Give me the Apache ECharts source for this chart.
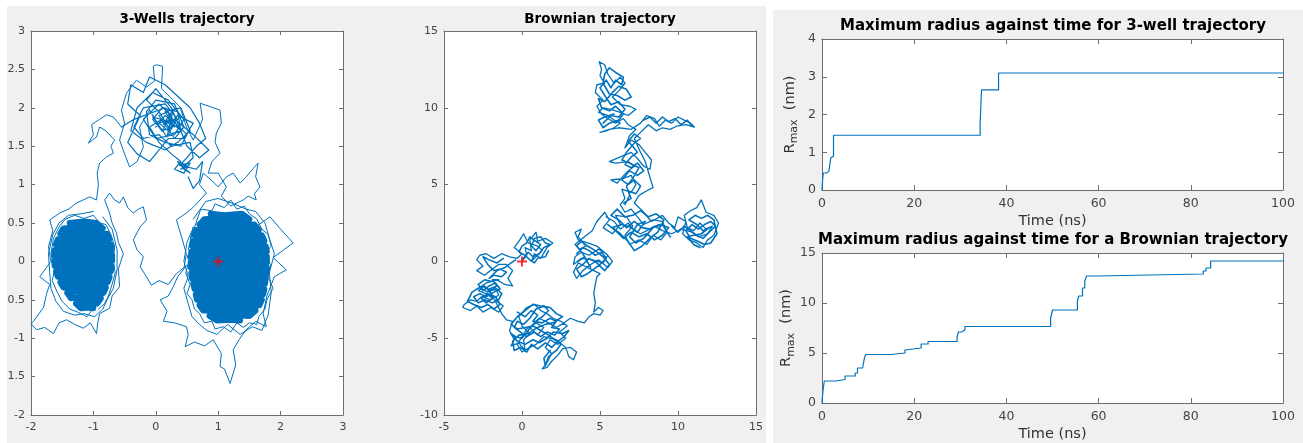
<!DOCTYPE html>
<html><head><meta charset="utf-8">
<script src="https://cdn.jsdelivr.net/npm/echarts@6/dist/echarts.min.js"></script>
<style>html,body{margin:0;padding:0;background:#fff}#c{width:1303px;height:443px}</style>
</head><body><div id="c"></div>
<script>
// ---------- 3-Wells trajectory (hand-traced legs) ----------
const wellsLegRight = [[1.0,0.0],[1.25,0.3],[1.6,0.45],[1.83,0.58],[2.0,0.42],[2.2,0.24],[2.05,0.15],[1.88,0.05],[2.09,-0.11],[1.9,-0.2],[1.78,-0.45],[1.72,-0.68],[1.77,-0.85],[1.6,-0.78],[1.45,-0.89],[1.35,-1.0],[1.24,-1.15],[1.28,-1.35],[1.19,-1.59],[1.1,-1.4],[1.03,-1.37],[1.05,-1.2],[0.92,-1.02],[0.78,-1.1],[0.62,-1.05],[0.47,-1.11],[0.52,-0.95],[0.49,-0.85],[0.3,-0.8],[0.12,-0.78],[0.18,-0.65],[0.07,-0.5],[0.2,-0.45],[0.28,-0.33],[0.35,-0.2],[0.45,-0.1],[0.49,0.1],[0.42,0.3],[0.33,0.54],[0.49,0.63],[0.62,0.72],[0.81,0.89],[0.7,1.0],[0.76,1.15],[0.9,1.05],[1.0,0.97],[1.13,1.1],[1.24,1.15],[1.35,1.02],[1.45,1.1],[1.55,1.2],[1.64,1.28],[1.6,1.1],[1.67,0.97],[1.58,0.88],[1.61,0.8],[1.48,0.85],[1.4,0.8],[1.2,0.72],[1.05,0.85],[1.13,0.97],[1.0,1.15],[0.84,1.15],[0.9,1.3],[1.03,1.41],[0.95,1.55],[0.97,1.67],[1.05,1.8],[1.03,1.97],[0.89,2.01],[0.71,2.06],[0.75,1.85],[0.6,1.58],[0.49,1.75],[0.39,2.01],[0.23,2.14],[0.09,2.25],[0.11,2.54],[0.01,2.56],[-0.04,2.54],[-0.02,2.35],[-0.15,2.27],[-0.31,2.36],[-0.47,2.19],[-0.55,1.97],[-0.5,1.8],[-0.58,1.58],[-0.5,1.4],[-0.42,1.23],[-0.3,1.3],[-0.2,1.49],[-0.26,1.75],[-0.1,1.97]];
const wellsLegTop = [[-0.1,1.97],[0.1,1.7],[0.25,1.9],[0.05,2.05],[-0.2,1.85],[0.0,1.6],[0.3,1.65],[0.45,1.85],[0.2,2.1],[-0.05,2.2],[-0.3,2.0],[-0.4,1.7],[-0.15,1.55],[0.15,1.45],[0.35,1.55],[0.55,1.7],[0.4,2.0],[0.15,1.95],[0.3,1.75],[0.1,1.85],[-0.1,1.75],[0.05,1.55],[0.25,1.4],[0.4,1.3],[0.3,1.2],[0.45,1.15],[0.55,1.28],[0.38,1.25],[0.5,1.35],[0.65,1.5],[0.8,1.6],[0.7,1.8],[0.55,2.0],[0.35,2.15],[0.15,2.3],[-0.1,2.4],[-0.2,2.2],[-0.4,2.3],[-0.45,2.05],[-0.25,1.9],[-0.45,1.55],[-0.3,1.4],[-0.1,1.3],[0.05,1.45],[0.2,1.6],[0.45,1.6],[0.6,1.8],[0.35,1.9],[0.2,1.75],[0.05,1.95],[-0.15,2.1],[0.0,2.25],[0.25,2.0],[0.5,1.5],[0.7,1.35],[0.85,1.45],[0.6,1.65],[0.3,1.85],[0.12,1.78],[0.28,1.98],[0.18,1.62],[-0.05,1.88],[0.22,1.82],[0.38,1.72],[0.15,2.0],[-0.35,1.85],[-0.55,1.75]];
const wellsTopDense = [[0.0,1.75],[0.15,1.9],[0.3,1.8],[0.2,1.65],[0.4,1.7],[0.35,1.95],[0.1,2.0],[-0.05,1.85],[0.1,1.7],[0.25,1.75],[0.2,1.95],[0.05,1.9],[0.3,1.6],[0.45,1.75],[0.3,2.05],[0.0,2.1],[-0.15,1.95],[-0.1,1.65],[0.15,1.55],[0.4,1.5],[0.5,1.65],[0.25,1.85],[0.05,1.8],[0.2,1.7],[0.35,1.85],[0.15,2.05],[-0.2,2.0],[-0.35,1.75],[-0.2,1.6],[0.05,1.65],[0.25,1.5],[0.55,1.55],[0.6,1.35],[0.4,1.2],[0.5,1.25],[0.35,1.3],[0.45,1.2],[0.55,1.15],[0.4,1.25],[0.65,1.2],[0.75,1.3],[0.7,1.05],[0.6,0.95],[0.52,1.1]];
const wellsLegLeftRoute = [[-0.55,1.75],[-0.68,1.88],[-0.79,1.91],[-0.9,1.85],[-1.03,1.78],[-1.0,1.65],[-1.08,1.54],[-0.95,1.62],[-0.9,1.75],[-0.8,1.7],[-0.66,1.58],[-0.72,1.5],[-0.68,1.41],[-0.79,1.36],[-0.9,1.28],[-0.94,1.15],[-0.92,1.0],[-0.95,0.8],[-1.06,0.84],[-1.27,0.76],[-1.4,0.68],[-1.54,0.63],[-1.7,0.54],[-1.65,0.4],[-1.72,0.19],[-1.68,0.0],[-1.86,-0.2],[-1.7,-0.3],[-1.75,-0.42],[-1.8,-0.6],[-1.96,-0.78],[-2.0,-0.81],[-1.91,-0.89],[-1.78,-0.86],[-1.64,-0.94],[-1.55,-0.8],[-1.43,-0.76],[-1.3,-0.82],[-1.16,-0.87],[-1.05,-0.8],[-0.95,-0.94],[-0.93,-0.8],[-0.9,-0.68],[-0.74,-0.61],[-0.7,-0.45],[-0.58,-0.33],[-0.6,-0.1],[-0.52,0.1],[-0.6,0.25],[-0.63,0.37],[-0.7,0.5],[-0.74,0.63],[-0.82,0.8],[-0.74,0.89],[-0.66,0.8],[-0.58,0.76],[-0.52,0.84],[-0.45,0.7],[-0.36,0.63],[-0.28,0.68],[-0.2,0.71],[-0.15,0.54],[-0.25,0.45],[-0.36,0.28],[-0.3,0.15],[-0.2,0.06],[-0.25,-0.07],[-0.15,-0.2],[-0.07,-0.31],[0.05,-0.25],[0.2,-0.3],[0.33,-0.16],[0.5,-0.05]];
const wellsCoreRight = [[0.88,0.62],[1.1,0.6],[1.38,0.62],[1.5,0.55],[1.15,0.57],[0.78,0.55],[0.7,0.48],[1.2,0.5],[1.58,0.48],[1.65,0.41],[1.1,0.43],[0.65,0.41],[0.62,0.34],[1.25,0.36],[1.7,0.34],[1.74,0.27],[1.05,0.29],[0.6,0.27],[0.58,0.2],[1.3,0.22],[1.76,0.2],[1.78,0.13],[1.0,0.15],[0.57,0.13],[0.56,0.06],[1.25,0.08],[1.78,0.06],[1.78,-0.01],[1.1,0.01],[0.56,-0.01],[0.56,-0.08],[1.3,-0.06],[1.78,-0.08],[1.78,-0.15],[1.05,-0.13],[0.57,-0.15],[0.58,-0.22],[1.2,-0.2],[1.76,-0.22],[1.75,-0.29],[1.1,-0.27],[0.6,-0.29],[0.62,-0.36],[1.3,-0.34],[1.74,-0.36],[1.72,-0.43],[1.0,-0.41],[0.64,-0.43],[0.66,-0.5],[1.2,-0.48],[1.7,-0.5],[1.66,-0.57],[1.1,-0.55],[0.7,-0.57],[0.76,-0.64],[1.25,-0.62],[1.6,-0.64],[1.5,-0.71],[1.1,-0.69],[0.86,-0.71],[0.98,-0.77],[1.2,-0.76],[1.35,-0.77]];
const wellsRingRight = [[0.52,0.15],[0.6,0.45],[0.56,0.3],[0.72,0.68],[0.9,0.66],[0.95,0.75],[1.1,0.7],[1.2,0.8],[1.3,0.68],[1.42,0.72],[1.5,0.62],[1.62,0.55],[1.7,0.42],[1.8,0.35],[1.85,0.2],[1.75,0.1],[1.84,-0.05],[1.8,-0.2],[1.88,-0.35],[1.78,-0.5],[1.75,-0.62],[1.65,-0.72],[1.62,-0.82],[1.5,-0.8],[1.4,-0.86],[1.3,-0.8],[1.2,-0.92],[1.08,-0.85],[0.95,-0.88],[0.9,-0.78],[0.78,-0.8],[0.7,-0.68],[0.62,-0.62],[0.58,-0.5],[0.5,-0.42],[0.55,-0.3],[0.48,-0.15],[0.53,0.0],[0.5,0.08]];
const wellsRingRight2 = [[0.6,0.55],[0.8,0.78],[1.0,0.82],[1.25,0.75],[1.45,0.68],[1.6,0.65],[1.75,0.5],[1.82,0.3],[1.9,0.1],[1.82,-0.15],[1.85,-0.4],[1.8,-0.7],[1.7,-0.9],[1.55,-0.85],[1.35,-0.95],[1.15,-0.82],[0.98,-0.95],[0.82,-0.9],[0.7,-0.82],[0.58,-0.72],[0.52,-0.55],[0.45,-0.35],[0.52,-0.2],[0.45,0.0],[0.5,0.25],[0.58,0.4]];
const wellsCoreLeft = [[-1.38,0.5],[-1.15,0.52],[-0.95,0.5],[-0.85,0.43],[-1.2,0.45],[-1.48,0.43],[-1.53,0.36],[-1.1,0.38],[-0.78,0.36],[-0.74,0.29],[-1.25,0.31],[-1.57,0.29],[-1.6,0.22],[-1.05,0.24],[-0.72,0.22],[-0.71,0.15],[-1.3,0.17],[-1.62,0.15],[-1.63,0.08],[-1.1,0.1],[-0.7,0.08],[-0.7,0.01],[-1.2,0.03],[-1.63,0.01],[-1.62,-0.06],[-1.0,-0.04],[-0.71,-0.06],[-0.72,-0.13],[-1.3,-0.11],[-1.6,-0.13],[-1.57,-0.2],[-1.1,-0.18],[-0.74,-0.2],[-0.77,-0.27],[-1.2,-0.25],[-1.53,-0.27],[-1.48,-0.34],[-1.05,-0.32],[-0.8,-0.34],[-0.84,-0.41],[-1.25,-0.39],[-1.42,-0.41],[-1.36,-0.48],[-1.1,-0.46],[-0.88,-0.48],[-0.94,-0.55],[-1.15,-0.53],[-1.28,-0.55],[-1.2,-0.61],[-1.1,-0.6],[-1.0,-0.61]];
const wellsRingLeft = [[-1.0,-0.61],[-1.1,-0.72],[-1.25,-0.66],[-1.38,-0.62],[-1.5,-0.52],[-1.58,-0.4],[-1.66,-0.25],[-1.62,-0.1],[-1.68,0.1],[-1.64,0.3],[-1.55,0.45],[-1.45,0.55],[-1.3,0.6],[-1.15,0.56],[-1.0,0.6],[-0.9,0.5],[-0.8,0.48],[-0.72,0.35],[-0.66,0.2],[-0.68,0.0],[-0.65,-0.15],[-0.7,-0.3],[-0.76,-0.45],[-0.82,-0.55],[-0.92,-0.62]];
const wellsRingLeft2 = [[-1.0,0.65],[-1.2,0.62],[-1.4,0.6],[-1.55,0.5],[-1.65,0.35],[-1.72,0.1],[-1.7,-0.15],[-1.68,-0.35],[-1.6,-0.52],[-1.48,-0.65],[-1.3,-0.7],[-1.15,-0.68],[-0.98,-0.72],[-0.85,-0.62],[-0.78,-0.5],[-0.68,-0.35],[-0.62,-0.1],[-0.62,0.15],[-0.7,0.42],[-0.85,0.58]];
const wellsStart = [[1, 0]];

// ---------- Brownian trajectory (hand-traced) ----------
const brownPath = [[0,0],[0.3,0.4],[0.2,0.9],[0.6,0.7],[0.5,1.4],[0.9,1.9],[1.0,1.3],[1.5,1.5],[1.98,1.2],[1.6,0.9],[1.2,0.2],[0.8,0.5],[0.6,0.0],[0.9,0.3],[1.3,0.7],[1.0,1.0],[0.4,1.2],[0.1,1.8],[-0.2,1.3],[-0.5,0.9],[0.0,0.5],[-0.3,0.2],[-0.8,0.3],[-1.3,0.5],[-1.8,0.2],[-2.3,0.5],[-2.7,0.4],[-2.9,0.1],[-2.5,-0.3],[-2.9,-0.6],[-2.4,-0.9],[-1.9,-0.5],[-1.5,-0.2],[-1.0,-0.2],[-0.6,-0.6],[-0.9,-1.1],[-0.6,-1.6],[-1.1,-1.5],[-1.6,-1.2],[-2.3,-1.4],[-2.7,-1.7],[-2.2,-2.0],[-1.7,-1.7],[-1.5,-2.2],[-2.0,-2.5],[-2.6,-2.3],[-2.9,-2.6],[-3.3,-2.5],[-3.7,-2.8],[-3.8,-3.0],[-3.3,-3.2],[-2.9,-2.9],[-2.5,-3.3],[-2.0,-3.0],[-1.5,-3.3],[-1.2,-2.9],[-1.6,-2.6],[-2.3,-2.1],[-2.8,-1.9],[-2.4,-1.6],[-1.9,-2.2],[-1.3,-3.4],[-1.0,-3.8],[-0.6,-3.9],[-0.8,-4.5],[-0.5,-5.1],[-0.7,-5.5],[-0.2,-5.3],[0.2,-5.8],[0.1,-5.1],[0.5,-4.7],[0.0,-4.2],[-0.2,-3.6],[0.3,-3.0],[0.8,-2.8],[1.2,-3.2],[1.6,-3.4],[2.0,-3.7],[2.5,-3.9],[2.9,-4.2],[2.4,-4.6],[2.8,-5.0],[2.3,-5.4],[1.8,-5.1],[1.5,-5.6],[1.9,-6.0],[1.6,-6.6],[1.3,-7.0],[1.6,-6.9],[1.9,-6.5],[2.3,-6.1],[2.6,-5.7],[3.1,-5.6],[3.5,-5.9],[3.3,-6.4],[3.0,-6.2],[2.8,-5.6],[2.2,-5.1],[1.4,-4.9],[0.9,-5.4],[0.5,-5.6],[0.0,-5.9],[-0.3,-5.4],[0.3,-4.4],[0.9,-4.0],[1.4,-4.3],[1.0,-4.8],[0.5,-4.3],[1.1,-3.7],[1.7,-4.0],[2.2,-4.3],[2.7,-4.0],[3.1,-3.7],[3.6,-3.9],[4.0,-4.0],[4.3,-3.6],[4.6,-3.4],[5.0,-3.5],[5.2,-3.2],[4.9,-3.0],[4.6,-3.3],[4.7,-2.7],[4.6,-2.1],[4.7,-1.5],[4.8,-1.0],[5.0,-0.8],[4.6,-0.6],[4.0,-0.3],[3.6,-0.1],[3.3,-0.7],[3.5,-1.1],[3.9,-0.6],[4.4,-0.2],[4.9,0.1],[5.5,-0.4],[5.8,0.0],[5.4,0.5],[4.9,0.8],[4.3,0.4],[3.8,0.6],[3.4,0.3],[3.3,-0.2],[3.8,0.2],[4.5,0.1],[5.2,-0.1],[5.5,0.4],[4.8,1.0],[4.2,1.2],[3.6,1.4],[3.4,1.9],[3.8,2.1],[3.6,1.6],[4.1,1.0],[3.7,0.8],[3.4,1.1],[4.0,1.6],[4.5,2.0],[4.8,2.6],[5.3,3.2],[5.6,2.7],[5.2,2.2],[5.8,1.8],[6.3,2.4],[6.0,3.0],[6.7,2.9],[7.1,2.3],[6.6,1.7],[6.9,1.1],[7.5,1.4],[8.0,1.1],[8.4,1.7],[8.9,1.4],[9.3,1.9],[9.0,2.6],[8.4,2.7],[7.8,2.4],[7.4,2.9],[7.0,3.4],[6.6,3.2],[6.3,3.7],[6.6,4.1],[6.4,4.7],[7.0,4.5],[7.3,5.0],[7.0,5.6],[6.5,5.4],[5.7,5.3],[6.1,5.1],[6.7,5.8],[7.2,6.2],[6.8,6.5],[6.0,6.4],[5.6,6.5],[6.3,6.8],[7.0,7.1],[7.4,6.7],[7.8,6.2],[8.2,6.0],[8.3,6.6],[7.9,7.1],[7.5,7.6],[7.0,7.9],[6.6,7.4],[6.9,8.2],[7.3,8.6],[6.8,8.9],[6.5,9.3],[6.0,9.0],[5.5,9.3],[5.1,9.6],[4.8,10.1],[5.2,10.5],[4.7,11.0],[4.8,11.5],[5.3,11.6],[5.0,12.1],[5.1,12.5],[4.95,13.0],[5.3,12.8],[5.5,12.2],[5.9,11.6],[6.3,12.0],[6.6,11.6],[6.2,11.1],[5.8,10.7],[6.3,10.2],[6.9,10.1],[7.3,9.9],[6.8,9.5],[6.3,9.7],[5.7,9.9],[5.2,10.0],[4.9,9.7],[5.5,9.5],[5.9,9.2],[6.3,9.0],[5.9,8.7],[5.4,8.5],[5.0,8.4],[5.6,8.6],[6.2,8.7],[7.0,8.6],[7.6,9.0],[8.0,9.5],[8.5,9.3],[8.8,8.8],[9.2,9.2],[9.6,9.0],[10.0,9.4],[10.4,9.2],[10.8,9.0],[11.05,8.75],[10.5,8.9],[9.9,8.8],[9.5,8.6],[9.0,8.7],[8.6,8.5],[8.1,8.9],[7.6,8.4],[7.2,8.0],[7.5,7.3],[7.9,6.5],[8.4,4.8],[8.0,4.6],[7.5,4.3],[7.2,3.8],[7.8,3.2],[8.3,2.6],[9.0,3.0],[9.4,2.5],[9.8,2.2],[10.0,2.9],[10.5,2.6],[10.3,1.8],[10.7,1.4],[11.2,1.2],[11.6,0.9],[11.9,1.4],[12.3,1.7],[12.6,2.5],[12.3,3.0],[11.8,3.2],[11.5,4.0],[11.2,3.5],[10.8,3.3],[10.4,3.0],[10.6,2.2],[11.0,2.0],[11.4,2.5],[11.8,2.1],[12.2,2.3],[11.9,1.8],[11.3,1.6],[10.9,1.9],[10.2,2.1],[9.6,1.8],[9.0,2.0],[8.5,2.3],[8.0,2.0],[7.6,1.8],[7.2,2.0],[6.8,2.5],[6.3,2.1],[5.9,2.6],[5.4,2.9]];
const brownNE = [[0.1,0.2],[0.4,0.6],[0.7,0.3],[1.1,0.5],[1.4,0.9],[1.8,1.1],[1.5,1.2],[1.2,1.6],[0.8,1.5],[0.6,1.0],[0.9,0.7],[1.2,1.1],[0.9,1.3],[0.5,1.6],[0.3,1.2],[0.0,1.0],[-0.2,0.6],[0.2,0.4],[0.5,0.1],[0.8,-0.1],[1.0,0.2],[1.5,0.3],[1.7,0.7]];
const brownWestLoop = [[-1.2,0.2],[-1.6,-0.1],[-2.1,0.1],[-2.5,0.3],[-2.2,-0.2],[-1.8,-0.6],[-1.4,-0.5],[-1.0,-0.7],[-1.3,-1.0],[-1.8,-0.9],[-2.1,-1.1],[-1.6,-0.6],[-1.1,-0.4],[-0.7,-0.1],[-0.4,0.1]];
const brownWest = [[-2.0,-1.3],[-2.4,-1.2],[-2.8,-1.5],[-2.5,-1.9],[-2.1,-1.6],[-1.7,-1.4],[-1.4,-1.8],[-1.8,-2.0],[-2.3,-2.3],[-2.7,-2.1],[-3.1,-2.3],[-2.8,-2.7],[-2.4,-2.5],[-1.9,-2.7],[-1.5,-2.5],[-1.3,-2.1],[-1.6,-1.8],[-2.0,-1.9],[-2.5,-1.6],[-2.9,-1.8],[-3.2,-2.0],[-3.5,-2.6],[-3.1,-2.8],[-2.6,-3.0],[-2.2,-2.8],[-1.8,-3.1],[-1.4,-2.8],[-1.7,-2.3],[-2.2,-2.1],[-2.6,-2.4],[-2.3,-2.7],[-1.9,-2.4],[-2.1,-1.8],[-1.6,-1.6],[-1.9,-1.2],[-1.5,-1.2]];
const brownSouth = [[-0.3,-3.3],[0.2,-3.6],[0.6,-3.2],[1.0,-3.5],[0.7,-3.9],[1.3,-4.0],[1.8,-3.7],[2.2,-3.9],[1.9,-4.3],[2.4,-4.4],[2.1,-4.8],[1.6,-4.6],[1.2,-4.9],[0.8,-4.6],[0.3,-4.9],[-0.1,-4.6],[-0.5,-4.3],[-0.3,-3.9],[0.1,-4.1],[0.5,-3.7],[0.9,-3.1],[1.4,-2.9],[1.7,-3.2],[1.3,-3.6],[0.9,-3.9],[0.4,-4.5],[0.0,-5.0],[-0.4,-4.9],[-0.7,-4.7],[-0.3,-5.2],[0.2,-5.4],[0.7,-5.1],[1.1,-5.3],[1.6,-5.0],[2.0,-4.6],[2.6,-4.7],[3.0,-4.5],[2.7,-4.9],[2.3,-5.2],[1.9,-5.6],[1.5,-5.3],[1.0,-5.7],[0.6,-5.4],[0.3,-5.9],[-0.1,-5.6],[-0.5,-5.8],[-0.6,-5.2],[-0.2,-4.8],[0.4,-4.7],[1.0,-4.3],[1.5,-4.1],[2.0,-4.0],[2.6,-3.6],[2.2,-3.4],[1.8,-3.0],[1.2,-2.9],[0.7,-2.8],[0.2,-3.2],[-0.3,-3.6],[-0.7,-4.1],[-0.3,-4.4],[0.2,-4.3],[0.7,-4.2],[1.2,-4.5],[1.7,-4.8],[2.1,-5.1],[2.5,-5.4],[2.2,-5.8],[1.7,-6.2],[1.5,-6.8],[1.4,-6.3],[1.8,-5.8]];
const brownCentre = [[3.5,0.5],[3.9,0.9],[4.3,0.7],[4.7,0.4],[5.1,0.6],[5.4,0.2],[5.0,-0.2],[4.6,-0.5],[4.2,-0.8],[3.8,-1.0],[3.5,-0.5],[3.9,-0.2],[4.3,0.2],[4.8,-0.1],[5.3,-0.6],[5.6,-0.2],[5.2,0.3],[4.7,0.7],[4.2,1.0],[3.8,1.3],[3.5,1.0],[3.9,0.5],[4.4,-0.4],[4.0,0.3],[3.6,0.0]];
const brownMiddle = [[5.5,2.4],[6.0,2.0],[6.5,1.5],[7.0,1.9],[7.5,1.6],[8.0,1.8],[8.5,1.4],[9.0,1.7],[9.4,2.2],[8.8,2.4],[8.2,2.1],[7.7,2.2],[7.2,2.6],[6.7,2.2],[6.2,2.7],[5.7,3.0],[6.1,3.4],[6.6,2.9],[7.1,3.0],[7.6,3.3],[8.1,2.9],[8.6,3.1],[9.1,2.7],[8.7,1.9],[8.2,1.5],[7.7,1.0],[7.2,0.7],[6.8,1.3],[6.3,1.8],[5.8,2.2],[6.4,2.4],[7.0,2.2],[7.4,1.9],[7.9,2.6],[7.4,2.4],[6.9,1.6],[7.3,1.2],[7.8,1.5],[8.4,2.2],[9.0,2.4],[9.5,1.6]];
const brownEast = [[9.6,2.3],[10.0,1.9],[10.4,2.3],[10.8,2.0],[11.2,1.7],[11.6,1.5],[12.0,1.9],[12.4,2.3],[12.1,2.6],[11.7,2.4],[11.3,2.1],[10.9,2.4],[10.5,2.0],[10.8,1.5],[11.3,1.3],[11.7,1.1],[12.1,1.2],[12.5,1.8],[12.3,2.7],[11.9,3.0],[11.5,2.8],[11.1,3.0],[10.7,2.7],[11.2,2.4],[11.6,2.0],[12.0,2.2],[11.5,1.8],[11.0,1.7],[10.6,1.6],[11.0,1.1],[11.4,0.9]];
const brownColumn = [[6.5,3.8],[7.0,4.1],[6.8,4.6],[7.3,4.4],[7.6,4.9],[7.2,5.3],[6.8,5.0],[6.4,5.3],[6.9,5.9],[7.4,5.6],[7.8,5.9],[7.4,6.4],[7.0,6.1],[6.6,6.3],[7.0,6.8],[7.4,7.1],[7.1,7.5],[6.8,7.8],[7.2,8.3],[7.6,8.0],[7.2,7.7],[6.7,7.1],[6.4,6.6],[6.9,6.4],[7.5,6.1],[7.1,5.4],[6.7,4.9],[6.9,4.3],[6.6,3.7]];
const brownNorth = [[5.2,9.0],[5.7,9.5],[6.2,9.4],[6.6,9.9],[6.2,10.4],[5.7,10.2],[5.3,10.8],[5.0,11.3],[5.4,11.8],[5.7,11.3],[6.0,11.8],[6.4,11.5],[6.5,12.0],[6.0,12.3],[5.6,12.6],[5.3,12.2],[5.2,11.6],[5.6,10.9],[6.1,10.8],[6.6,10.5],[7.0,10.7],[6.7,11.2],[6.2,11.4],[5.8,11.0],[5.3,10.4],[4.9,10.6],[5.1,10.0],[5.6,9.8],[6.0,10.1],[6.5,9.6],[6.2,9.2],[5.6,9.0],[5.2,8.7],[4.9,9.2],[5.3,9.4],[5.9,9.6]];
const brownBranch = [[7.8,9.2],[8.2,9.4],[8.6,9.0],[9.0,9.4],[9.4,9.1],[9.8,9.3],[10.2,8.9],[10.6,9.2],[10.9,8.8]];
const brownStart = [[0, 0]];

// ---------- Maximum radius step curves ----------
const wellTime = [0, 0.15, 0.3, 1.0, 1.5, 1.9, 2.2, 2.5, 34.3, 34.6, 38.3, 100];
const wellRmax = [0, 0.3, 0.45, 0.5, 0.55, 0.85, 0.9, 1.45, 1.75, 2.65, 3.1, 3.1];
const brownTime = [0, 0.2, 0.5, 3, 5, 7.2, 7.7, 8.8, 9.2, 9.5, 15, 18, 18.3, 21.5, 23, 29.3, 29.6, 30.3, 31, 49.6, 50, 55.4, 55.7, 56.5, 57, 57.4, 59.6, 82.7, 83.3, 84.3, 100];
const brownRmax = [0, 1.2, 2.2, 2.35, 2.7, 3.0, 3.5, 3.7, 4.5, 4.85, 5.0, 5.3, 5.5, 5.9, 6.15, 6.6, 7.1, 7.3, 7.65, 8.5, 9.3, 10.2, 10.7, 11.5, 12.2, 12.7, 12.9, 13.2, 13.5, 14.2, 14.2];

// ---------- tick labels ----------
const wellsXTicks = ['-2', '-1', '0', '1', '2', '3'];
const wellsYTicks = ['-2', '1.5', '-1', '0.5', '0', '0.5', '1', '1.5', '2', '2.5', '3'];
const brownXTicks = ['-5', '0', '5', '10', '15'];
const brownYTicks = ['-10', '-5', '0', '5', '10', '15'];
const timeTicks = ['0', '20', '40', '60', '80', '100'];
const rWellTicks = ['0', '1', '2', '3', '4'];
const rBrownTicks = ['0', '5', '10', '15'];

const titles = ['3-Wells trajectory', 'Brownian trajectory', 'Maximum radius against time for 3-well trajectory', 'Maximum radius against time for a Brownian trajectory'];

// ---------- styling / build ----------
const BLUE = '#0072BD';
const AX = '#6e6e6e';
const LBL = '#444';
const FONT = 'DejaVu Sans';

function axis(grid, min, max, interval, labels, fs, margin, pos, show, tickLen) {
  return {
    type: 'value', gridIndex: grid, min: min, max: max, interval: interval, position: pos,
    axisLine: { show: true, onZero: false, lineStyle: { color: AX, width: 1 } },
    axisTick: { show: true, inside: true, length: tickLen, lineStyle: { color: AX } },
    splitLine: { show: false },
    axisLabel: {
      show: show, margin: margin, fontSize: fs, color: LBL, fontFamily: FONT,
      formatter: function (v) { return labels[Math.round((v - min) / interval)]; }
    }
  };
}

const grids = [
  { left: 31, top: 31, width: 312, height: 384 },
  { left: 444, top: 31, width: 312, height: 384 },
  { left: 822, top: 39, width: 461, height: 151 },
  { left: 822, top: 253, width: 461, height: 151 }
].map(g => Object.assign({ show: true, backgroundColor: '#fff', borderWidth: 0, containLabel: false }, g));

const xAxes = [], yAxes = [];
function addBox(g, xmin, xmax, xint, xl, ymin, ymax, yint, yl, fs, tl) {
  xAxes.push(axis(g, xmin, xmax, xint, xl, fs, 7, 'bottom', true, tl));
  xAxes.push(axis(g, xmin, xmax, xint, xl, fs, 7, 'top', false, tl));
  yAxes.push(axis(g, ymin, ymax, yint, yl, fs, 6, 'left', true, tl));
  yAxes.push(axis(g, ymin, ymax, yint, yl, fs, 6, 'right', false, tl));
}
addBox(0, -2, 3, 1, wellsXTicks, -2, 3, 0.5, wellsYTicks, 11, 4);
addBox(1, -5, 15, 5, brownXTicks, -10, 15, 5, brownYTicks, 11, 4);
addBox(2, 0, 100, 20, timeTicks, 0, 4, 1, rWellTicks, 12.5, 5);
addBox(3, 0, 100, 20, timeTicks, 0, 15, 5, rBrownTicks, 12.5, 5);

const nameRich = {
  a: { fontSize: 14.5, color: '#333', fontFamily: FONT, lineHeight: 20, verticalAlign: 'middle' },
  b: { fontSize: 11, color: '#333', fontFamily: FONT, lineHeight: 11, verticalAlign: 'bottom' }
};
[4, 6].forEach(i => Object.assign(xAxes[i], { name: 'Time (ns)', nameLocation: 'middle', nameGap: 24, nameTextStyle: { fontSize: 14.5, color: '#333', fontFamily: FONT } }));
[4, 6].forEach(i => Object.assign(yAxes[i], { name: '{a|R}{b|max}{a|  (nm)}', nameLocation: 'middle', nameGap: 22, nameTextStyle: { rich: nameRich } }));

function line(xi, yi, data, w, extra) {
  return Object.assign({ type: 'line', xAxisIndex: xi, yAxisIndex: yi, data: data, showSymbol: false, symbol: 'none', silent: true, animation: false,
    lineStyle: { color: BLUE, width: w, join: 'round', cap: 'round' }, clip: true }, extra || {});
}
const plus = 'path://M4,0H6V4H10V6H6V10H4V6H0V4H4Z';
function start(xi, yi, data) {
  return { type: 'scatter', xAxisIndex: xi, yAxisIndex: yi, data: data, symbol: plus, symbolSize: 10, itemStyle: { color: '#ff0000' }, silent: true, animation: false, z: 10 };
}

const series = [
  line(0, 0, wellsCoreRight, 6),
  line(0, 0, wellsCoreLeft, 6),
  line(0, 0, wellsRingRight, 1),
  line(0, 0, wellsRingRight2, 1),
  line(0, 0, wellsRingLeft, 1),
  line(0, 0, wellsRingLeft2, 1),
  line(0, 0, wellsLegRight, 1),
  line(0, 0, wellsLegTop, 1.2),
  line(0, 0, wellsTopDense, 1.2),
  line(0, 0, wellsLegLeftRoute, 1),
  start(0, 0, wellsStart),
  line(2, 2, brownPath, 1.3),
  line(2, 2, brownNE, 1.5),
  line(2, 2, brownWestLoop, 1.5),
  line(2, 2, brownWest, 1.6),
  line(2, 2, brownSouth, 1.6),
  line(2, 2, brownCentre, 1.6),
  line(2, 2, brownMiddle, 1.6),
  line(2, 2, brownEast, 1.6),
  line(2, 2, brownColumn, 1.5),
  line(2, 2, brownNorth, 1.6),
  line(2, 2, brownBranch, 1.5),
  start(2, 2, brownStart),
  line(4, 4, wellTime.map((t, i) => [t, wellRmax[i]]), 1.2, { step: 'end' }),
  line(6, 6, brownTime.map((t, i) => [t, brownRmax[i]]), 1.2, { step: 'end' })
];

const titleCfg = [
  { text: titles[0], left: 187, top: 12, fs: 13.5 },
  { text: titles[1], left: 600, top: 12, fs: 13.5 },
  { text: titles[2], left: 1053, top: 19, fs: 15 },
  { text: titles[3], left: 1053, top: 233, fs: 15 }
].map(t => ({ text: t.text, left: t.left, top: t.top, textAlign: 'center', padding: 0,
  textStyle: { fontSize: t.fs, fontWeight: 'bold', color: '#000', fontFamily: FONT } }));

const chart = echarts.init(document.getElementById('c'), null, { renderer: 'canvas' });
chart.setOption({
  animation: false,
  backgroundColor: '#fff',
  graphic: [
    { type: 'rect', z: -10, shape: { x: 7, y: 6, width: 759, height: 437 }, style: { fill: '#f0f0f0' }, silent: true },
    { type: 'rect', z: -10, shape: { x: 773, y: 10, width: 530, height: 433 }, style: { fill: '#f0f0f0' }, silent: true }
  ],
  title: titleCfg,
  grid: grids,
  xAxis: xAxes,
  yAxis: yAxes,
  series: series
});
</script>
</body></html>
